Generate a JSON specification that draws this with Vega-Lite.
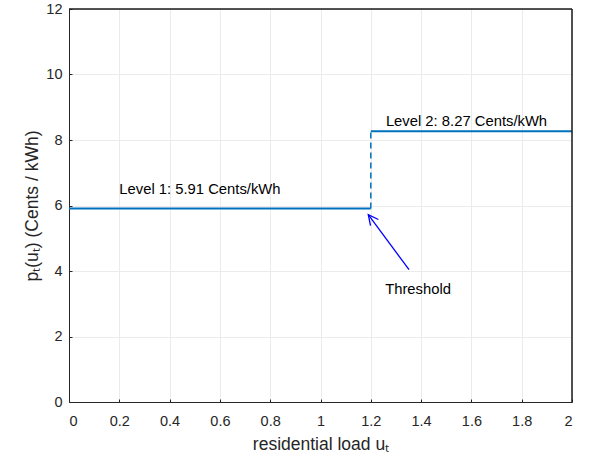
{
  "$schema": "https://vega.github.io/schema/vega-lite/v6.json",
  "width": 503,
  "height": 393,
  "autosize": "none",
  "padding": {"left": 69, "top": 9, "right": 19, "bottom": 61},
  "background": "white",
  "config": {
    "font": "Liberation Sans",
    "view": {"stroke": "#262626", "strokeWidth": 1},
    "axis": {
      "domainColor": "#262626",
      "tickColor": "#262626",
      "gridOpacity": 1,
      "gridColor": "#ebebeb",
      "labelFont": "Liberation Sans",
      "titleFont": "Liberation Sans",
      "labelFontSize": 14.5,
      "titleFontSize": 17.5,
      "titleFontWeight": "normal",
      "labelColor": "#262626",
      "titleColor": "#262626",
      "tickSize": -3
    }
  },
  "datasets": {
    "price": [
      {"u": 0, "p": 5.91, "level": "1"},
      {"u": 1.2, "p": 5.91, "level": "1"},
      {"u": 1.2, "p": 8.27, "level": "2"},
      {"u": 2, "p": 8.27, "level": "2"}
    ],
    "jump": [{"u": 1.2, "p1": 5.91, "p2": 8.27}],
    "arrow": [{"u1": 1.352, "p1": 4.04, "u2": 1.19, "p2": 5.72}],
    "labels": [
      {"u": 0.2, "p": 6.46, "text": "Level 1: 5.91 Cents/kWh"},
      {"u": 1.26, "p": 8.55, "text": "Level 2: 8.27 Cents/kWh"},
      {"u": 1.257, "p": 3.43, "text": "Threshold"}
    ],
    "edges": [
      {"ua": 0, "ub": 2, "pa": 12, "pb": 12, "edge": "top"},
      {"ua": 2, "ub": 2, "pa": 0, "pb": 12, "edge": "right"}
    ]
  },
  "layer": [
    {
      "data": {"name": "price"},
      "mark": {"type": "line", "color": "#0072BD", "strokeWidth": 2},
      "encoding": {
        "x": {
          "field": "u", "type": "quantitative",
          "scale": {"domain": [0, 2], "nice": false, "zero": false},
          "axis": {
            "values": [0, 0.2, 0.4, 0.6, 0.8, 1, 1.2, 1.4, 1.6, 1.8, 2], "format": "~g",
            "title": "residential load uₜ", "labelPadding": 15, "titlePadding": 8, "grid": true
          }
        },
        "y": {
          "field": "p", "type": "quantitative",
          "scale": {"domain": [0, 12], "nice": false},
          "axis": {
            "values": [0, 2, 4, 6, 8, 10, 12],
            "title": "pₜ(uₜ) (Cents / kWh)", "labelPadding": 10, "titlePadding": 4, "grid": true
          }
        },
        "detail": {"field": "level"}
      }
    },
    {
      "data": {"name": "jump"},
      "mark": {"type": "rule", "color": "#0072BD", "strokeWidth": 1.5, "strokeDash": [6, 4]},
      "encoding": {
        "x": {"field": "u", "type": "quantitative"},
        "y": {"field": "p1", "type": "quantitative"},
        "y2": {"field": "p2"}
      }
    },
    {
      "data": {"name": "arrow"},
      "mark": {"type": "rule", "color": "#0000FF", "strokeWidth": 1.3},
      "encoding": {
        "x": {"field": "u1", "type": "quantitative"},
        "y": {"field": "p1", "type": "quantitative"},
        "x2": {"field": "u2"},
        "y2": {"field": "p2"}
      }
    },
    {
      "data": {"name": "arrow"},
      "mark": {"type": "point", "shape": "M-0.5,1L0,0L0.5,1", "filled": false, "color": "#0000FF", "strokeWidth": 1.3, "size": 400, "angle": 322, "opacity": 1},
      "encoding": {
        "x": {"field": "u2", "type": "quantitative"},
        "y": {"field": "p2", "type": "quantitative"}
      }
    },
    {
      "data": {"name": "labels"},
      "mark": {"type": "text", "align": "left", "baseline": "middle", "fontSize": 14.8, "color": "#000000", "font": "Liberation Sans"},
      "encoding": {
        "x": {"field": "u", "type": "quantitative"},
        "y": {"field": "p", "type": "quantitative"},
        "text": {"field": "text"}
      }
    },
    {
      "data": {"name": "edges"},
      "mark": {"type": "rule", "color": "#1a1a1a", "strokeWidth": 1.5, "opacity": 1},
      "encoding": {
        "x": {"field": "ua", "type": "quantitative"},
        "x2": {"field": "ub"},
        "y": {"field": "pa", "type": "quantitative"},
        "y2": {"field": "pb"},
        "detail": {"field": "edge"}
      }
    }
  ]
}
